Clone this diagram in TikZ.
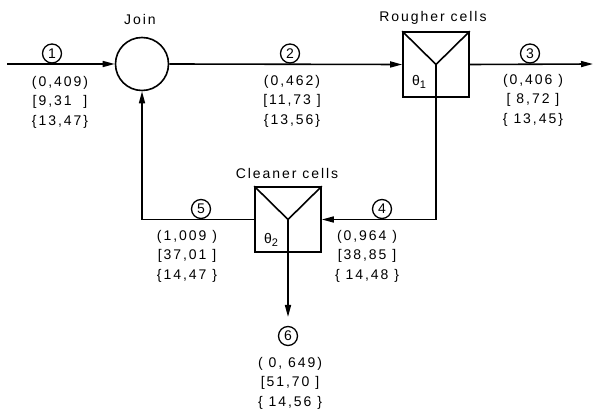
\documentclass[tikz,border=0pt]{standalone}
\usepackage{fontspec}
\setmainfont[LetterSpace=14]{Liberation Sans}
\usetikzlibrary{arrows.meta}

\newcommand{\subidx}[1]{\raisebox{-3pt}{\fontsize{11}{11}\selectfont #1}}

\begin{document}
\begin{tikzpicture}[
    x=1pt, y=-1pt,
    font=\fontsize{14}{19.5}\selectfont,
    line width=1.6pt,
    flow/.style={-{Triangle[length=12pt, width=6pt]}},
    tag/.style={circle, draw, line width=1.3pt, inner sep=0pt, minimum size=19pt},
    cellbox/.style={rectangle, draw, minimum width=66pt, minimum height=65pt},
    data/.style={align=center, font=\fontsize{14}{19.5}\selectfont}
]
\useasboundingbox (0,0) rectangle (594,411);

\node[circle, draw, minimum size=53pt, inner sep=0pt] (join) at (142,64) {};
\node[cellbox] (rougher) at (436,64.5) {};
\node[cellbox] (cleaner) at (288,219.5) {};

\node (joinlab) at (140,20) {Join};
\node (roughlab) at (433,18) {Rougher cells};
\node (cleanlab) at (287,173) {Cleaner cells};
\node (th1) at (419,82) {θ\subidx{1}};
\node (th2) at (271,240) {θ\subidx{2}};

\draw (rougher.north west) -- (rougher.center) -- (rougher.north east);
\draw (cleaner.north west) -- (cleaner.center) -- (cleaner.north east);

\coordinate (in) at (7,64);
\coordinate (out3) at (593,64);
\coordinate (out6) at (288,317);

\draw[flow] (in) -- (join.west);
\draw[flow] (join.east) -- (rougher.west);
\draw[flow] (rougher.east) -- (out3);
\draw[flow] (rougher.center) |- (cleaner.east);
\draw[flow] (cleaner.west) -| (join.south);
\draw[flow] (cleaner.center) -- (out6);

\node[tag] (t1) at (52,53.5) {1};
\node[tag] (t2) at (290,53.5) {2};
\node[tag] (t3) at (530,53.5) {3};
\node[tag] (t4) at (382,209) {4};
\node[tag] (t5) at (201,209) {5};
\node[tag] (t6) at (288,336) {6};

\node[data] (d1) at (60,102) {(0,409)\\{}[9,31\ \ ]\\\{13,47\}};
\node[data] (d2) at (292,101) {(0,462)\\{}[11,73\ ]\\\{13,56\}};
\node[data] (d3) at (533,100) {(0,406\ )\\{}[\ 8,72\ ]\\\{\ 13,45\}};
\node[data] (d4) at (367,256) {(0,964\ )\\{}[38,85\ ]\\\{\ 14,48\ \}};
\node[data] (d5) at (187,256) {(1,009\ )\\{}[37,01\ ]\\\{14,47\ \}};
\node[data] (d6) at (290,383) {(\ 0,\ 649)\\{}[51,70\ ]\\\{\ 14,56\ \}};
\end{tikzpicture}
\end{document}
